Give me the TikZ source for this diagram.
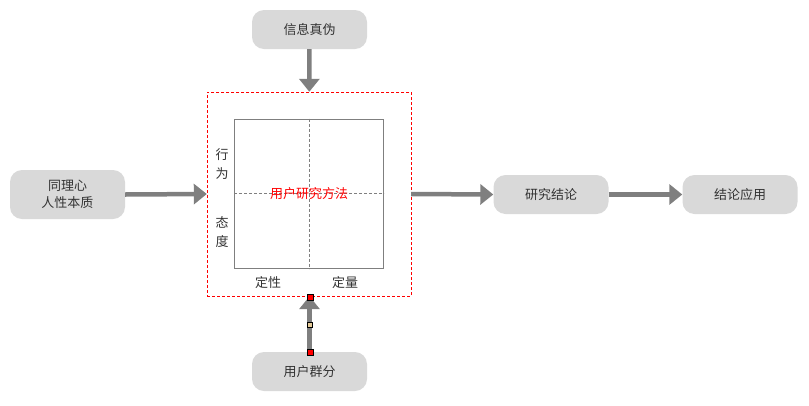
\documentclass[tikz,border=0pt]{standalone}
\usepackage{fontspec}
\setmainfont{Noto Sans CJK SC}
\usetikzlibrary{arrows.meta}
\definecolor{boxgray}{HTML}{D9D9D9}
\definecolor{textgray}{HTML}{333333}
\definecolor{linegray}{HTML}{7F7F7F}
\definecolor{handletan}{HTML}{E6CC99}

\begin{document}
\begin{tikzpicture}[x=1pt,y=-1pt,
  box/.style={fill=boxgray,rounded corners=12pt,minimum width=115pt,minimum height=39pt,
    text=textgray,font=\fontsize{13}{17}\selectfont,align=center,inner sep=0pt},
  link/.style={draw=linegray,line width=4.5pt,-{Triangle[width=20pt,length=13pt]}},
  label/.style={text=textgray,font=\fontsize{13}{19}\selectfont,align=center,inner sep=0pt},
  handle/.style={draw=black,line width=0.6pt,minimum size=6pt,inner sep=0pt,fill=red}]
\useasboundingbox (0,0) rectangle (809,405);

% quadrant
\node[draw=red,dashed,dash pattern=on 3pt off 2pt,minimum size=204pt,inner sep=0pt] (frame) at (309,194) {};
\node[draw=linegray,line width=1pt,minimum size=149pt,inner sep=0pt] (grid) at (309,193.5) {};
\draw[linegray,dash pattern=on 3pt off 2pt,line width=0.8pt] (grid.north) -- (grid.south);
\draw[linegray,dash pattern=on 3pt off 2pt,line width=0.8pt] (grid.west) -- (grid.east);
\node[text=red,font=\fontsize{13}{14}\selectfont] (method) at (grid.center) {用户研究方法};
\node[label] (behave) at (222,163.5) {行\\为};
\node[label] (attitude) at (222,232.5) {态\\度};
\node[label] (quali) at (268,283) {定性};
\node[label] (quanti) at (345,283) {定量};

% boxes
\node[box] (truth) at (309.5,29.5) {信息真伪};
\node[box,minimum height=49pt] (empathy) at (67.5,194.5) {同理心\\人性本质};
\node[box] (group) at (309.5,371.5) {用户群分};
\node[box] (result) at (551,194.5) {研究结论};
\node[box] (apply) at (740,194.5) {结论应用};

\draw[link] (truth) -- (frame);
\draw[link] (empathy.east) -- (frame.west);
\draw[link] (frame.east) -- (result.west);
\draw[link] (result) -- (apply);
\draw[link] (group.north) -- (group.north |- frame.south);

\node[handle] (h1) at (310,297) {};
\node[handle,fill=handletan,minimum size=5pt] (h2) at (310,325) {};
\node[handle] (h3) at (310,352) {};
\end{tikzpicture}
\end{document}
